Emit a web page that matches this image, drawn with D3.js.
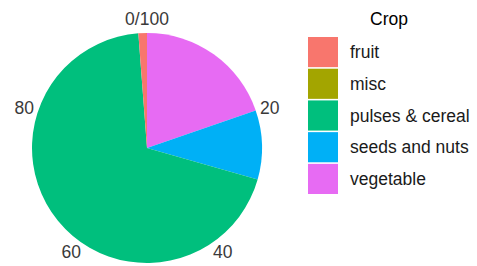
<!DOCTYPE html>
<html>
<head>
<meta charset="utf-8">
<script src="https://cdn.jsdelivr.net/npm/d3@7"></script>
<style>
  body { margin: 0; background: #fff; }
  text { font-family: "Liberation Sans", Arial, sans-serif; }
</style>
</head>
<body>
<div id="container"></div>
<script>
/* DATA */
const crops = ["fruit", "misc", "pulses & cereal", "seeds and nuts", "vegetable"];
const shares = [1.2, 0, 69.4, 9.7, 19.7];   // percent
const colors = ["#F8766D", "#A3A500", "#00BF7D", "#00B0F6", "#E76BF3"];
const ticks = [0, 20, 40, 60, 80];
const tickLabels = ["0/100", "20", "40", "60", "80"];

/* CONSTANTS */
const width = 477, height = 266;
const cx = 147, cy = 148, radius = 115;
const fontSize = 17.5;

const svg = d3.select("#container")
  .append("svg")
  .attr("width", width)
  .attr("height", height);

// theta scale - ggplot coord_polar, clockwise from top
const theta = d3.scaleLinear()
  .domain([0, 100])
  .range([0, 2 * Math.PI]);

const colorScale = d3.scaleOrdinal()
  .domain(crops)
  .range(colors);

// stack like ggplot: last level sits at 0
const order = crops.map((c, i) => ({crop: c, value: shares[i]})).reverse();
const ends = d3.cumsum(order, d => d.value);
order.forEach((d, i) => { d.end = ends[i]; d.start = ends[i] - d.value; });

const arc = d3.arc()
  .innerRadius(0)
  .outerRadius(radius)
  .startAngle(d => theta(d.start))
  .endAngle(d => theta(d.end));

const pie = svg.append("g")
  .attr("transform", `translate(${cx},${cy})`);

pie.selectAll("path")
  .data(order.filter(d => d.value > 0))
  .join("path")
  .attr("d", arc)
  .attr("fill", d => colorScale(d.crop));

// theta axis labels
const labelR = 129;
pie.selectAll("text.tick")
  .data(ticks)
  .join("text")
  .attr("class", "tick")
  .attr("x", d => labelR * Math.sin(theta(d)))
  .attr("y", d => -labelR * Math.cos(theta(d)))
  .attr("text-anchor", "middle")
  .attr("dominant-baseline", "central")
  .attr("font-size", fontSize)
  .attr("fill", "#3a3a3a")
  .text((d, i) => tickLabels[i]);

// legend
const legend = svg.append("g")
  .attr("transform", "translate(308,0)");

legend.append("text")
  .attr("x", 81)
  .attr("y", 25)
  .attr("text-anchor", "middle")
  .attr("font-size", fontSize)
  .attr("fill", "#000")
  .text("Crop");

const keyY = d3.scaleBand()
  .domain(crops)
  .range([37, 194])
  .paddingInner(0.05);

const keys = legend.selectAll("g.key")
  .data(crops)
  .join("g")
  .attr("class", "key");

keys.append("rect")
  .attr("x", 0)
  .attr("y", d => keyY(d))
  .attr("width", 30)
  .attr("height", keyY.bandwidth())
  .attr("fill", d => colorScale(d));

keys.append("text")
  .attr("x", 42)
  .attr("y", d => keyY(d) + keyY.bandwidth() / 2)
  .attr("dominant-baseline", "central")
  .attr("font-size", fontSize)
  .attr("fill", "#1a1a1a")
  .text(d => d);
</script>
</body>
</html>
